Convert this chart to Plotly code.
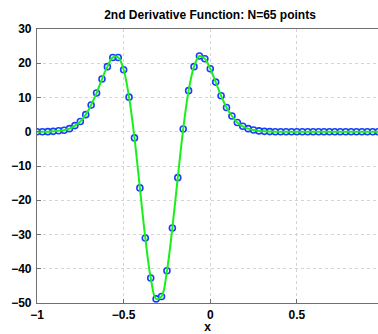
import plotly.graph_objects as go

N = 65
x_vals = [-1 + 2 * j / (N - 1) for j in range(N)]

d2u_vals = [
    0.0, 0.01, 0.03, 0.12, 0.3, 0.45, 0.9, 1.8, 3.0, 5.0,
    7.8, 11.3, 15.4, 19.0, 21.7, 21.7, 18.1, 10.1, -1.8, -16.4,
    -31.0, -42.7, -48.8, -48.1, -40.6, -28.1, -13.4, 0.8, 12.0, 19.0,
    22.1, 21.3, 18.4, 14.5, 10.5, 7.1, 4.6, 2.7, 1.6, 0.9,
    0.5, 0.25, 0.12, 0.05, 0.02, 0.01, 0.0, 0.0, 0.0, 0.0,
    0.0, 0.0, 0.0, 0.0, 0.0, 0.0, 0.0, 0.0, 0.0, 0.0,
    0.0, 0.0, 0.0, 0.0, 0.0,
]

x_ticks = [-1, -0.5, 0, 0.5]
y_ticks = [-50, -40, -30, -20, -10, 0, 10, 20, 30]
title_text = "2nd Derivative Function: N=65 points"

font_family = "Liberation Sans, Arial, Helvetica, sans-serif"

fig = go.Figure()
fig.add_trace(go.Scatter(
    x=x_vals, y=d2u_vals, mode="markers",
    marker=dict(symbol="circle-open", size=6, color="#1a3cff",
                line=dict(width=1.6, color="#1a3cff")),
    showlegend=False, hoverinfo="skip",
))
fig.add_trace(go.Scatter(
    x=x_vals, y=d2u_vals, mode="lines",
    line=dict(color="#19f019", width=2, shape="spline", smoothing=1.0),
    showlegend=False, hoverinfo="skip",
))

axis_common = dict(
    showgrid=True, gridcolor="#d4d4d4", griddash="dot", gridwidth=1,
    zeroline=False, showline=True, linecolor="#707070", linewidth=1.2,
    mirror=True, ticks="inside", ticklen=4, tickcolor="#707070",
    tickfont=dict(family=font_family, size=12, color="black", weight="bold"),
)

fig.update_layout(
    width=378, height=334,
    margin=dict(l=37, r=0, t=29, b=31),
    paper_bgcolor="white", plot_bgcolor="white",
    title=dict(text=title_text, x=210 / 378, xanchor="center", xref="container",
               y=1 - 15 / 334, yanchor="middle", yref="container",
               font=dict(family=font_family, size=12, color="black", weight="bold")),
    xaxis=dict(range=[-1, 0.968], tickvals=x_ticks,
               ticktext=["\u22121", "\u22120.5", "0", "0.5"],
               title=dict(text="x", standoff=0,
                          font=dict(family=font_family, size=12, color="black", weight="bold")),
               **axis_common),
    yaxis=dict(range=[-50, 30], tickvals=y_ticks, ticklabelstandoff=2, **axis_common),
)

fig.write_html("out.html",
               config={"displayModeBar": False},
               post_script="document.body.style.margin='0';document.body.style.overflow='hidden';")
